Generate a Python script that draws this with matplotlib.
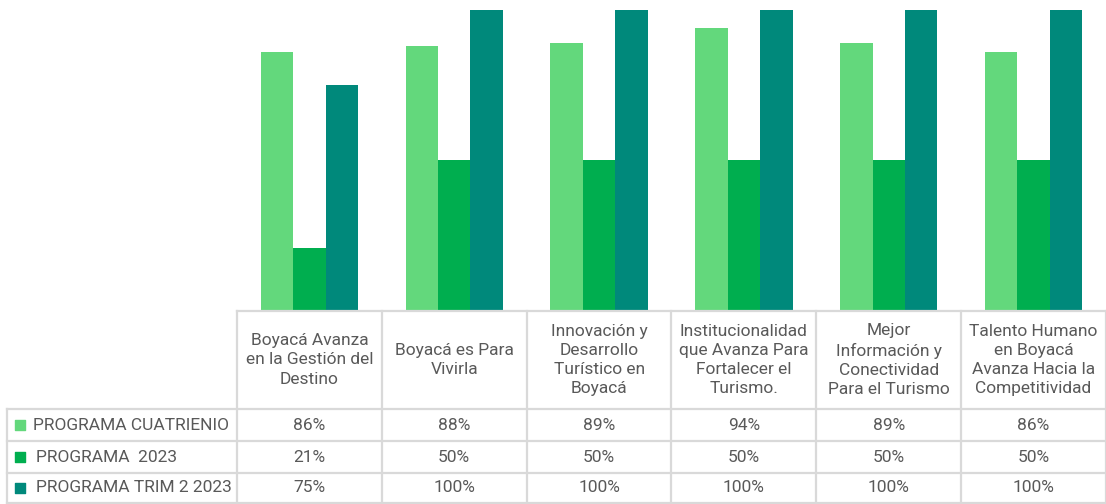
import matplotlib
matplotlib.use("agg")
import matplotlib.pyplot as plt
import matplotlib.transforms as mtransforms
import numpy as np

# datos
categorias = [
    "Boyacá Avanza\nen la Gestión del\nDestino",
    "Boyacá es Para\nVivirla",
    "Innovación y\nDesarrollo\nTurístico en\nBoyacá",
    "Institucionalidad\nque Avanza Para\nFortalecer el\nTurismo.",
    "Mejor\nInformación y\nConectividad\nPara el Turismo",
    "Talento Humano\nen Boyacá\nAvanza Hacia la\nCompetitividad",
]
series = ["PROGRAMA CUATRIENIO", "PROGRAMA  2023", "PROGRAMA TRIM 2 2023"]
cuatrienio = [86, 88, 89, 94, 89, 86]
prog_2023 = [21, 50, 50, 50, 50, 50]
trim2_2023 = [75, 100, 100, 100, 100, 100]
valores = [cuatrienio, prog_2023, trim2_2023]
colores = ["#63D87C", "#00AE4F", "#00897B"]

W, H = 1106, 504
fig = plt.figure(figsize=(W / 100, H / 100), dpi=100)
plt.rcParams["font.family"] = ["Roboto", "DejaVu Sans"]
gris_txt = "#595959"
gris_lin = "#D9D9D9"
fs = 12.5

# eje de barras: x 237..1106 px, y 311..10 px
ax = fig.add_axes([237 / W, (H - 311) / H, 869 / W, 301 / H])
x = np.arange(len(categorias))
ancho = 0.224
for i, (vals, col) in enumerate(zip(valores, colores)):
    ax.bar(x + (i - 1) * ancho, np.array(vals) / 100, width=ancho, color=col,
           linewidth=0)
ax.set_xlim(-0.5, len(categorias) - 0.5)
ax.set_ylim(0, 1)
ax.axis("off")

# tabla de datos debajo
tr = mtransforms.blended_transform_factory(ax.transData, fig.transFigure)
px_por_cat = 869 / len(categorias)
x_izq = -0.5 - (237 - 7) / px_por_cat


def fy(p):
    return (H - p) / H


y_head_top, y_head_bot = 311, 409
filas = [409, 441, 473, 503]
lw = 1.6

# lineas horizontales
ax.plot([-0.5, len(categorias) - 0.5], [fy(y_head_top)] * 2, transform=tr,
        color=gris_lin, lw=lw, clip_on=False)
for yy in filas:
    ax.plot([x_izq, len(categorias) - 0.5], [fy(yy)] * 2, transform=tr,
            color=gris_lin, lw=lw, clip_on=False)
# lineas verticales
for k in range(len(categorias) + 1):
    xx = k - 0.5
    ax.plot([xx, xx], [fy(y_head_top), fy(filas[-1])], transform=tr,
            color=gris_lin, lw=lw, clip_on=False)
ax.plot([x_izq, x_izq], [fy(filas[0]), fy(filas[-1])], transform=tr,
        color=gris_lin, lw=lw, clip_on=False)

# encabezados
for i, cat in enumerate(categorias):
    ax.text(i, fy((y_head_top + y_head_bot) / 2), cat, transform=tr,
            ha="center", va="center", fontsize=fs, color=gris_txt,
            linespacing=1.36, clip_on=False)

# filas de valores
for r, (nombre, vals, col) in enumerate(zip(series, valores, colores)):
    yc = fy((filas[r] + filas[r + 1]) / 2)
    ax.scatter([x_izq + 13 / px_por_cat], [yc], transform=tr, marker="s",
               s=55, color=col, clip_on=False)
    ax.text(x_izq + (26 if r == 0 else 29) / px_por_cat, yc, nombre,
            transform=tr, ha="left", va="center", fontsize=fs,
            color=gris_txt, clip_on=False)
    for i, v in enumerate(vals):
        ax.text(i, yc, f"{v}%", transform=tr, ha="center", va="center",
                fontsize=fs, color=gris_txt, clip_on=False)

fig.savefig("out.png", dpi=100)
